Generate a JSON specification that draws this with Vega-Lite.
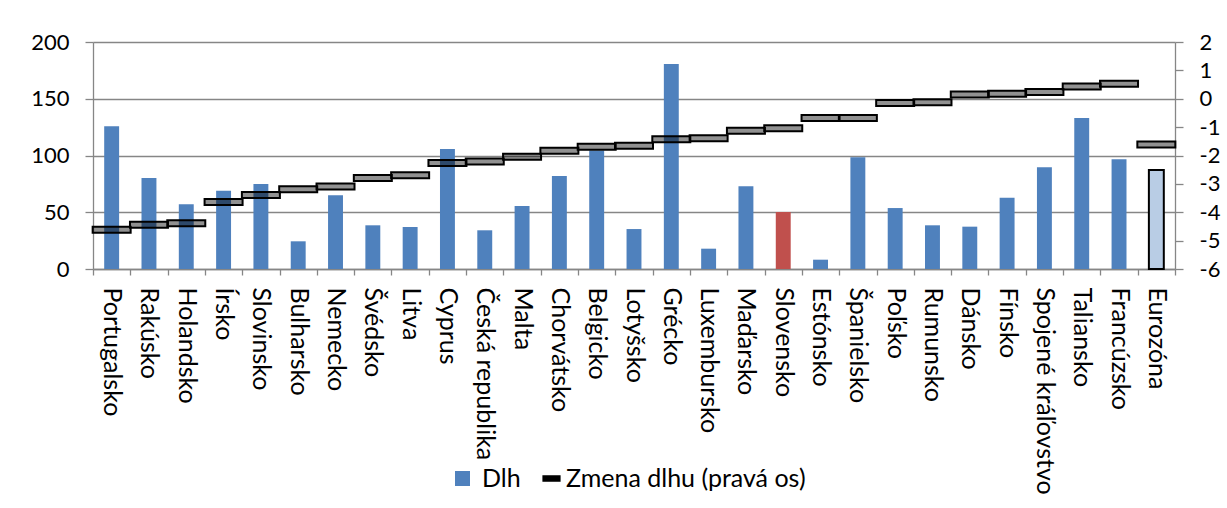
{
  "$schema": "https://vega.github.io/schema/vega-lite/v6.json",
  "width": 1082,
  "height": 227,
  "autosize": {"type": "none"},
  "padding": {"left": 93, "top": 42, "right": 52, "bottom": 239},
  "config": {
    "view": {"stroke": null},
    "font": "Lato",
    "axis": {
      "labelFont": "Lato",
      "labelFontSize": 22,
      "labelColor": "#000000",
      "domainColor": "#868686",
      "tickColor": "#868686",
      "gridColor": "#868686",
      "domainWidth": 1.3,
      "tickWidth": 1.3,
      "gridWidth": 1.3,
      "title": null
    },
    "legend": {
      "labelFont": "Lato",
      "labelFontSize": 25,
      "labelColor": "#000000",
      "labelLimit": 400,
      "symbolOpacity": 1
    }
  },
  "data": {
    "values": [
      {"country": "Portugalsko", "debt": 125.7, "chg": -4.62},
      {"country": "Rakúsko", "debt": 80.2, "chg": -4.44},
      {"country": "Holandsko", "debt": 57.0, "chg": -4.39},
      {"country": "Írsko", "debt": 69.0, "chg": -3.64},
      {"country": "Slovinsko", "debt": 74.9, "chg": -3.39},
      {"country": "Bulharsko", "debt": 24.4, "chg": -3.19},
      {"country": "Nemecko", "debt": 64.9, "chg": -3.09},
      {"country": "Švédsko", "debt": 38.5, "chg": -2.79},
      {"country": "Litva", "debt": 37.0, "chg": -2.70},
      {"country": "Cyprus", "debt": 105.7, "chg": -2.26},
      {"country": "Česká republika", "debt": 34.1, "chg": -2.21},
      {"country": "Malta", "debt": 55.5, "chg": -2.04},
      {"country": "Chorvátsko", "debt": 81.9, "chg": -1.83},
      {"country": "Belgicko", "debt": 104.3, "chg": -1.69},
      {"country": "Lotyšsko", "debt": 35.2, "chg": -1.66},
      {"country": "Grécko", "debt": 180.6, "chg": -1.43},
      {"country": "Luxembursko", "debt": 17.9, "chg": -1.39},
      {"country": "Maďarsko", "debt": 72.8, "chg": -1.13},
      {"country": "Slovensko", "debt": 50.2, "chg": -1.04},
      {"country": "Estónsko", "debt": 8.2, "chg": -0.68},
      {"country": "Španielsko", "debt": 98.4, "chg": -0.68},
      {"country": "Poľsko", "debt": 53.7, "chg": -0.15},
      {"country": "Rumunsko", "debt": 38.5, "chg": -0.12},
      {"country": "Dánsko", "debt": 37.3, "chg": 0.15},
      {"country": "Fínsko", "debt": 62.8, "chg": 0.18},
      {"country": "Spojené kráľovstvo", "debt": 89.6, "chg": 0.24},
      {"country": "Taliansko", "debt": 133.0, "chg": 0.43},
      {"country": "Francúzsko", "debt": 96.6, "chg": 0.53},
      {"country": "Eurozóna", "debt": 87.2, "chg": -1.61}
    ]
  },
  "encoding": {
    "x": {
      "field": "country",
      "type": "nominal",
      "sort": null,
      "scale": {"paddingInner": 0, "paddingOuter": 0},
      "axis": {
        "labelAngle": 90,
        "labelFontSize": 25,
        "tickBand": "extent",
        "tickSize": 6,
        "labelPadding": 12,
        "labelLimit": 300
      }
    }
  },
  "layer": [
    {
      "mark": {"type": "bar", "width": {"band": 0.4}, "strokeWidth": 2},
      "encoding": {
        "y": {
          "field": "debt",
          "type": "quantitative",
          "scale": {"domain": [0, 200]},
          "axis": {
            "values": [0, 50, 100, 150, 200],
            "grid": true,
            "tickSize": 8,
            "labelPadding": 16
          }
        },
        "color": {
          "datum": "Dlh",
          "condition": [
            {"test": "datum.country === 'Slovensko'", "value": "#c0504d"},
            {"test": "datum.country === 'Eurozóna'", "value": "#b9cde5"}
          ],
          "scale": {"domain": ["Dlh"], "range": ["#4f81bd"]},
          "legend": {
            "title": null,
            "orient": "none",
            "legendX": 357,
            "legendY": 424,
            "symbolType": "square",
            "symbolSize": 225,
            "symbolStrokeWidth": 0,
            "labelOffset": 7
          }
        },
        "stroke": {
          "condition": {"test": "datum.country === 'Eurozóna'", "value": "#000000"},
          "value": "transparent"
        }
      }
    },
    {
      "mark": {
        "type": "tick",
        "size": 38,
        "thickness": 6,
        "fill": "#000000",
        "fillOpacity": 0.43,
        "strokeWidth": 2
      },
      "encoding": {
        "y": {
          "field": "chg",
          "type": "quantitative",
          "scale": {"domain": [-6, 2]},
          "axis": {
            "orient": "right",
            "values": [-6, -5, -4, -3, -2, -1, 0, 1, 2],
            "grid": false,
            "tickSize": 8,
            "labelPadding": 16,
            "labelExpr": "'' + datum.value"
          }
        },
        "stroke": {
          "datum": "Zmena dlhu (pravá os)",
          "scale": {"domain": ["Zmena dlhu (pravá os)"], "range": ["#000000"]},
          "legend": {
            "title": null,
            "orient": "none",
            "legendX": 446,
            "legendY": 424,
            "symbolType": "M-1,-0.3H1V0.3H-1Z",
            "symbolSize": 289,
            "symbolStrokeWidth": 1.2,
            "symbolFillColor": "#8c8c8c",
            "labelOffset": 2
          }
        }
      }
    }
  ],
  "resolve": {"scale": {"y": "independent"}}
}
